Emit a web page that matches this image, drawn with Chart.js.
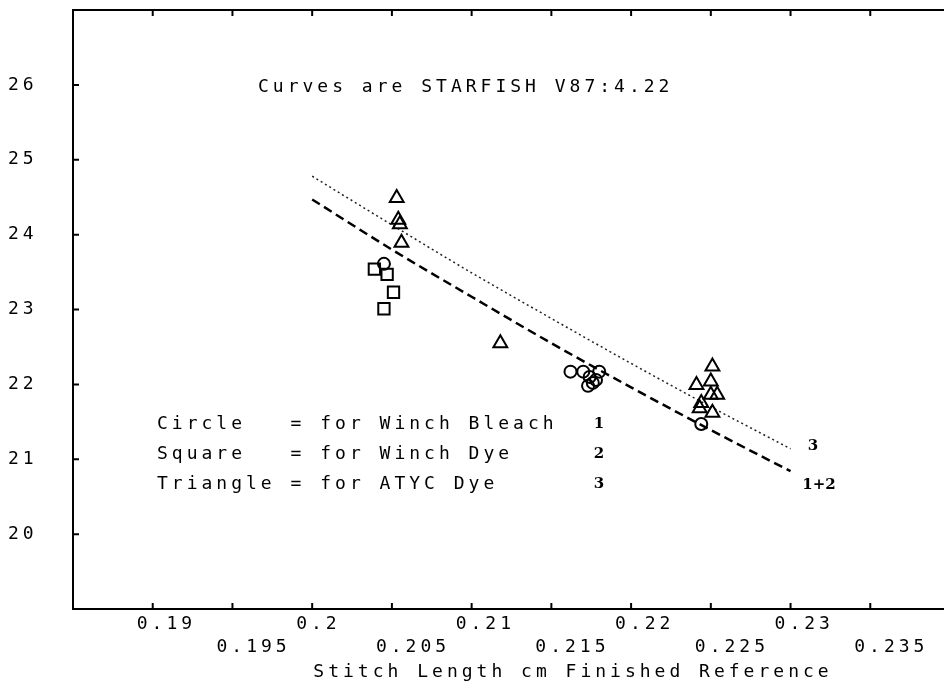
<!DOCTYPE html>
<html>
<head>
<meta charset="utf-8">
<script src="https://cdn.jsdelivr.net/npm/chart.js@4/dist/chart.umd.min.js"></script>
<style>
	body { margin: 0; background: #fff; }
	#wrap { width: 944px; height: 691px; overflow: hidden; }
	#box { width: 960px; height: 691px; }
</style>
</head>
<body>
<div id="wrap"><div id="box"><canvas id="myChart"></canvas></div></div>
<script>
let circleX = [0.2045, 0.2162, 0.2170, 0.2174, 0.2176, 0.2178, 0.2180, 0.2173, 0.2244];
let circleY = [23.61, 22.17, 22.17, 22.10, 22.02, 22.06, 22.17, 21.98, 21.47];
let squareX = [0.2039, 0.2047, 0.2051, 0.2045];
let squareY = [23.54, 23.47, 23.23, 23.01];
let triangleX = [0.2053, 0.2054, 0.2055, 0.2056, 0.2118, 0.2241, 0.2243, 0.2244, 0.2250, 0.2250, 0.2251, 0.2251, 0.2254];
let triangleY = [24.49, 24.20, 24.14, 23.89, 22.55, 21.99, 21.68, 21.75, 22.04, 21.86, 22.24, 21.62, 21.86];
let curveX = [0.2, 0.205, 0.21, 0.215, 0.22, 0.225, 0.23];
let curve12 = [24.47, 23.80, 23.17, 22.55, 21.96, 21.39, 20.84];
let curve3 = [24.78, 24.13, 23.49, 22.88, 22.28, 21.70, 21.14];
let xTicks = [0.185, 0.19, 0.195, 0.2, 0.205, 0.21, 0.215, 0.22, 0.225, 0.23, 0.235, 0.24];
let yTicks = [19, 20, 21, 22, 23, 24, 25, 26, 27];

let legendLines = ['Circle   = for Winch Bleach', 'Square   = for Winch Dye', 'Triangle = for ATYC Dye'];
let legendMarks = ['1', '2', '3'];

const mono = "'DejaVu Sans Mono', monospace";
const spacing = '4px';
Chart.defaults.font.family = mono;
Chart.defaults.font.size = 18;
Chart.defaults.color = '#000';

function toPoints(xs, ys) {
	return xs.map((x, i) => ({ x: x, y: ys[i] }));
}

function fmt(v) {
	return String(+v.toFixed(3));
}

let frame = {
	id: 'frame',
	beforeDraw(chart) {
		chart.ctx.letterSpacing = spacing;
	},
	afterDraw(chart) {
		let ctx = chart.ctx;
		let a = chart.chartArea;
		let xs = chart.scales.x;
		let ys = chart.scales.y;
		ctx.save();
		ctx.strokeStyle = '#000';
		ctx.lineWidth = 2;
		ctx.strokeRect(a.left, a.top, a.right - a.left, a.bottom - a.top);

		// inward tick marks on all four sides
		ctx.beginPath();
		xTicks.slice(1, -1).forEach(v => {
			let px = xs.getPixelForValue(v);
			ctx.moveTo(px, a.bottom); ctx.lineTo(px, a.bottom - 6);
			ctx.moveTo(px, a.top); ctx.lineTo(px, a.top + 6);
		});
		yTicks.slice(1, -1).forEach(v => {
			let py = ys.getPixelForValue(v);
			ctx.moveTo(a.left, py); ctx.lineTo(a.left + 6, py);
			ctx.moveTo(a.right, py); ctx.lineTo(a.right - 6, py);
		});
		ctx.stroke();

		ctx.fillStyle = '#000';
		ctx.font = '18px ' + mono;
		ctx.letterSpacing = spacing;
		ctx.textBaseline = 'middle';
		ctx.textAlign = 'left';
		ctx.fillText('Curves are STARFISH V87:4.22', 258, 87);
		legendLines.forEach((t, i) => ctx.fillText(t, 157, 424 + i * 30));
		ctx.textAlign = 'center';
		ctx.fillText('Stitch Length cm Finished Reference', 573, 672);

		// handwritten curve labels
		ctx.letterSpacing = '0px';
		ctx.font = 'bold 15px "DejaVu Serif"';
		legendMarks.forEach((t, i) => ctx.fillText(t, 599, 424 + i * 30));
		ctx.fillText('3', 813, 446);
		ctx.fillText('1+2', 819, 485);
		ctx.restore();
	}
};

const ctx = document.getElementById('myChart');
const myChart = new Chart(ctx, {
	type: 'scatter',
	data: {
		datasets: [{
			data: toPoints(circleX, circleY),
			pointStyle: 'circle',
			pointRadius: 6,
			borderColor: '#000',
			borderWidth: 2,
			backgroundColor: 'transparent'
		}, {
			data: toPoints(squareX, squareY),
			pointStyle: 'rect',
			pointRadius: 8,
			borderColor: '#000',
			borderWidth: 2,
			backgroundColor: 'transparent'
		}, {
			data: toPoints(triangleX, triangleY),
			pointStyle: 'triangle',
			pointRadius: 8,
			borderColor: '#000',
			borderWidth: 2,
			backgroundColor: 'transparent'
		}, {
			type: 'line',
			data: toPoints(curveX, curve12),
			borderColor: '#000',
			borderWidth: 2.5,
			borderDash: [9, 5],
			pointRadius: 0,
			cubicInterpolationMode: 'monotone'
		}, {
			type: 'line',
			data: toPoints(curveX, curve3),
			borderColor: '#222',
			borderWidth: 1.5,
			borderDash: [2, 3],
			pointRadius: 0,
			cubicInterpolationMode: 'monotone'
		}]
	},
	options: {
		responsive: true,
		maintainAspectRatio: false,
		animation: false,
		layout: { padding: { top: 6, right: 10, left: 8, bottom: 0 } },
		plugins: {
			legend: { display: false },
			tooltip: { enabled: false }
		},
		scales: {
			x: {
				type: 'linear',
				min: 0.185,
				max: 0.24,
				afterBuildTicks: (s) => { s.ticks = xTicks.map(v => ({ value: v })); },
				afterFit: (s) => { s.height = 82; },
				grid: { display: false, drawTicks: false },
				border: { display: false },
				ticks: {
					autoSkip: false,
					maxRotation: 0,
					align: 'start',
					labelOffset: -16,
					padding: 4,
					font: { size: 18, lineHeight: '23px' },
					callback: (v, i) => {
						if (i === 0 || i === xTicks.length - 1) return '';
						return i % 2 === 1 ? [fmt(v)] : ['', fmt(v)];
					}
				}
			},
			y: {
				min: 19,
				max: 27,
				afterBuildTicks: (s) => { s.ticks = yTicks.map(v => ({ value: v })); },
				afterFit: (s) => {
					s.width = 65;
					s.paddingTop = 0;
					s.paddingBottom = 0;
				},
				grid: { display: false, drawTicks: false },
				border: { display: false },
				ticks: {
					padding: 0,
					crossAlign: 'far',
					callback: (v, i) => (i === 0 || i === yTicks.length - 1) ? '' : String(v)
				}
			}
		}
	},
	plugins: [frame]
});
</script>
</body>
</html>
